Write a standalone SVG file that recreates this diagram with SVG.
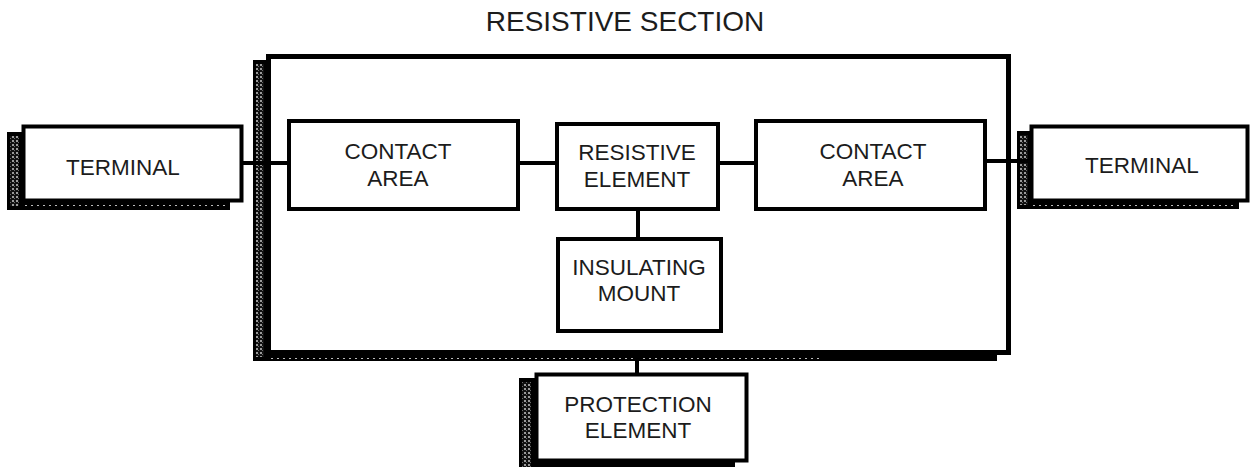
<svg xmlns="http://www.w3.org/2000/svg" width="1250" height="467" viewBox="0 0 1250 467">
  <defs>
    <pattern id="hatch" width="4" height="4" patternUnits="userSpaceOnUse">
      <rect width="4" height="4" fill="#111"/>
      <rect x="0" y="0" width="2" height="2" fill="#9a9a9a"/>
      <rect x="2" y="2" width="1" height="1" fill="#6a6a6a"/>
    </pattern>
    <pattern id="dots" width="6" height="3" patternUnits="userSpaceOnUse">
      <rect width="6" height="3" fill="#000"/>
      <rect x="1" y="1" width="2" height="1" fill="#bbb"/>
    </pattern>
  </defs>
  <style>
    .box { fill: #fff; stroke: #000; stroke-width: 4; }
    .main { fill: #fff; stroke: #000; stroke-width: 5; }
    .sh { fill: #000; }
    .conn { stroke: #000; stroke-width: 4; fill: none; }
    .lbl { font-family: "Liberation Sans", Arial, sans-serif; font-size: 22.5px; fill: #1c1c1c; text-anchor: middle; }
    .title { font-family: "Liberation Sans", Arial, sans-serif; font-size: 28px; fill: #1c1c1c; text-anchor: middle; }
  </style>

  <text class="title" x="625" y="31">RESISTIVE SECTION</text>

  <g id="resistive-section">
    <rect class="sh" x="253" y="60" width="15" height="301"/>
    <rect class="sh" x="253" y="353" width="744" height="8"/>
    <rect x="256" y="64" width="8" height="293" fill="url(#hatch)"/>
    <rect x="270" y="356" width="552" height="3" fill="url(#dots)"/>
    <rect class="main" x="268.5" y="56.5" width="740" height="296"/>
  </g>

  <g id="terminal-left">
    <rect class="sh" x="7" y="132" width="16" height="78"/>
    <rect class="sh" x="7" y="200" width="223" height="10"/>
    <rect x="10" y="136" width="9" height="70" fill="url(#hatch)"/>
    <rect x="22" y="203" width="206" height="3" fill="url(#dots)"/>
    <rect class="box" x="23.5" y="126.5" width="218" height="74"/>
    <text class="lbl" x="123" y="175">TERMINAL</text>
  </g>

  <g id="terminal-right">
    <rect class="sh" x="1017" y="131" width="15" height="78"/>
    <rect class="sh" x="1017" y="200" width="222" height="9"/>
    <rect x="1020" y="135" width="8" height="70" fill="url(#hatch)"/>
    <rect x="1030" y="203" width="206" height="3" fill="url(#dots)"/>
    <rect class="box" x="1031.5" y="126.5" width="216" height="74"/>
    <text class="lbl" x="1142" y="173">TERMINAL</text>
  </g>

  <g id="protection-element">
    <rect class="sh" x="519" y="378" width="17" height="89"/>
    <rect class="sh" x="519" y="460" width="216" height="7"/>
    <rect x="522" y="382" width="9" height="85" fill="url(#hatch)"/>
    <rect class="box" x="536.5" y="374.5" width="210" height="86"/>
    <text class="lbl" x="638" y="412">PROTECTION</text>
    <text class="lbl" x="638" y="438">ELEMENT</text>
  </g>

  <g id="contact-area-left">
    <rect class="box" x="289" y="121" width="229" height="88"/>
    <text class="lbl" x="398" y="159">CONTACT</text>
    <text class="lbl" x="398" y="186">AREA</text>
  </g>

  <g id="resistive-element">
    <rect class="box" x="557" y="124" width="161" height="85"/>
    <text class="lbl" x="637" y="160">RESISTIVE</text>
    <text class="lbl" x="637" y="187">ELEMENT</text>
  </g>

  <g id="insulating-mount">
    <rect class="box" x="558" y="239" width="163" height="92"/>
    <text class="lbl" x="639" y="275">INSULATING</text>
    <text class="lbl" x="639" y="301">MOUNT</text>
  </g>

  <g id="contact-area-right">
    <rect class="box" x="756" y="121" width="229" height="88"/>
    <text class="lbl" x="873" y="159">CONTACT</text>
    <text class="lbl" x="873" y="186">AREA</text>
  </g>

  <g id="connectors">
    <line class="conn" x1="243" y1="163" x2="267" y2="163"/>
    <line class="conn" x1="270" y1="163" x2="288" y2="163"/>
    <line class="conn" x1="520" y1="163" x2="556" y2="163"/>
    <line class="conn" x1="719" y1="163" x2="755" y2="163"/>
    <line class="conn" x1="987" y1="161" x2="1007" y2="161"/>
    <line class="conn" x1="1010" y1="161" x2="1030" y2="161"/>
    <line class="conn" x1="638" y1="211" x2="638" y2="238"/>
    <line class="conn" x1="637" y1="354" x2="637" y2="373"/>
  </g>
</svg>
